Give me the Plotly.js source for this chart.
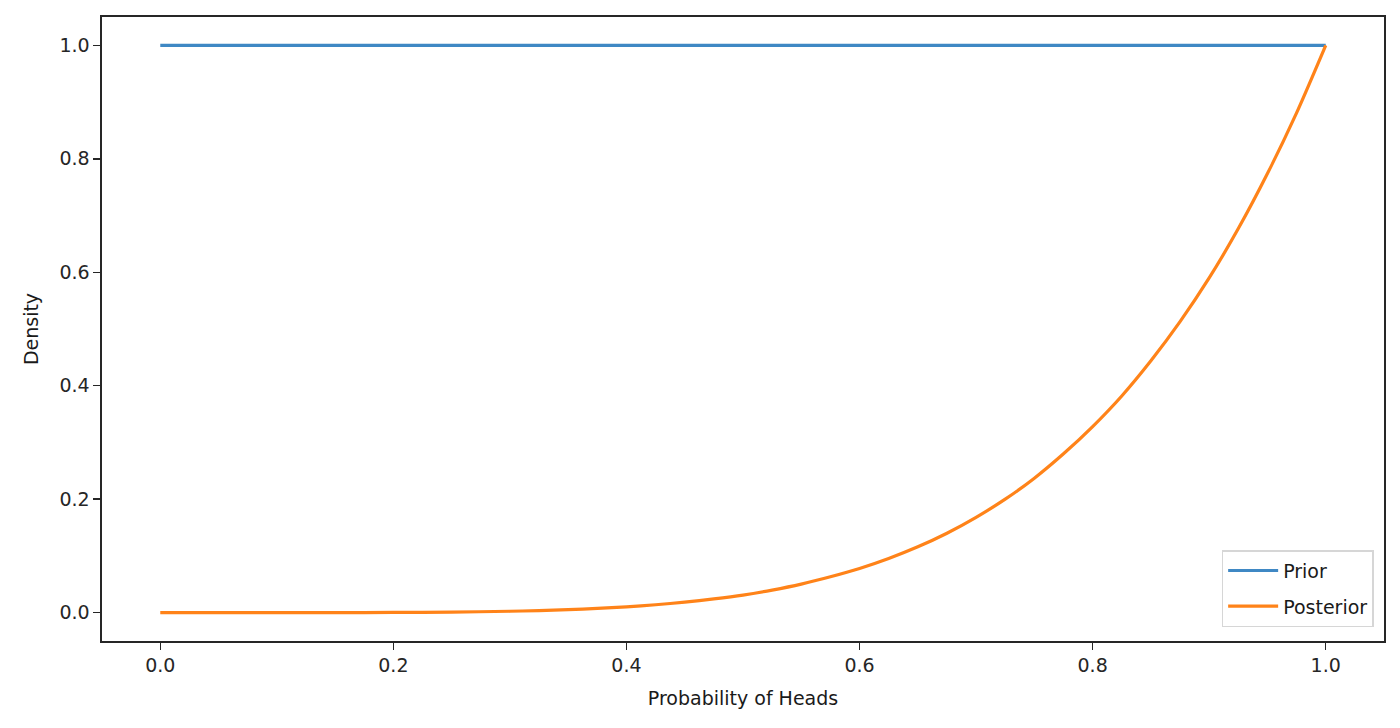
<!DOCTYPE html>
<html>
<head>
<meta charset="utf-8">
<script src="https://cdn.plot.ly/plotly-3.0.1.min.js"></script>
<style>
  body { margin: 0; background: #fff; }
  #myDiv { width: 1400px; height: 728px; }
</style>
</head>
<body>
<div id="myDiv"></div>
<script>
var probs = [0.0, 0.05, 0.1, 0.15, 0.2, 0.25, 0.3, 0.325, 0.35, 0.375, 0.4,
             0.425, 0.45, 0.475, 0.5, 0.525, 0.55, 0.575, 0.6, 0.625, 0.65,
             0.675, 0.7, 0.725, 0.75, 0.775, 0.8, 0.825, 0.85, 0.875, 0.9,
             0.925, 0.95, 0.975, 1.0];
var prior = [1, 1, 1, 1, 1, 1, 1, 1, 1, 1, 1,
             1, 1, 1, 1, 1, 1, 1, 1, 1, 1,
             1, 1, 1, 1, 1, 1, 1, 1, 1, 1,
             1, 1, 1, 1];
var posterior = [0, 0, 0, 0.0001, 0.0003, 0.001, 0.0024, 0.0036, 0.0053, 0.0074, 0.0102,
                 0.0139, 0.0185, 0.0242, 0.031, 0.0398, 0.0503, 0.0632, 0.0778, 0.0954, 0.116,
                 0.140, 0.168, 0.200, 0.237, 0.280, 0.328, 0.382, 0.444, 0.513, 0.590,
                 0.677, 0.774, 0.881, 1.0];

var xTicks = [0, 0.2, 0.4, 0.6, 0.8, 1.0];
var xTickText = ["0.0", "0.2", "0.4", "0.6", "0.8", "1.0"];
var yTicks = [0, 0.2, 0.4, 0.6, 0.8, 1.0];
var yTickText = ["0.0", "0.2", "0.4", "0.6", "0.8", "1.0"];

var fnt = "DejaVu Sans, sans-serif";

var tracePrior = {
  x: probs, y: prior, type: "scatter", mode: "lines", name: "Prior",
  legendgroup: "a",
  line: {color: "#3f88c4", width: 3.2}
};
var tracePost = {
  x: probs, y: posterior, type: "scatter", mode: "lines", name: "Posterior",
  legendgroup: "b",
  line: {color: "#ff8319", width: 3.2, shape: "spline", smoothing: 0.8}
};

var axisBase = {
  showgrid: false, zeroline: false, showline: true, mirror: true,
  linecolor: "#262626", linewidth: 1.6,
  ticks: "outside", ticklen: 7, tickwidth: 1.4, tickcolor: "#262626",
  tickfont: {family: fnt, size: 19, color: "#262626"}
};

var layout = {
  width: 1400, height: 728,
  margin: {l: 102, r: 16, t: 17, b: 87},
  paper_bgcolor: "#fff", plot_bgcolor: "#fff",
  showlegend: true,
  legend: {
    x: 0.992, y: 0.022, xanchor: "right", yanchor: "bottom",
    bgcolor: "rgba(255,255,255,0.8)", bordercolor: "#d6d6d6", borderwidth: 1.4,
    font: {family: fnt, size: 19, color: "#1a1a1a"},
    itemwidth: 50, tracegroupgap: 8
  },
  xaxis: Object.assign({}, axisBase, {
    range: [-0.05, 1.05], tickvals: xTicks, ticktext: xTickText,
    title: {text: "Probability of Heads", font: {family: fnt, size: 19, color: "#1a1a1a"}, standoff: 16}
  }),
  yaxis: Object.assign({}, axisBase, {
    range: [-0.05, 1.05], tickvals: yTicks, ticktext: yTickText,
    title: {text: "Density", font: {family: fnt, size: 19, color: "#1a1a1a"}, standoff: 16}
  })
};

Plotly.newPlot("myDiv", [tracePrior, tracePost], layout, {displayModeBar: false, staticPlot: true});
</script>
</body>
</html>
